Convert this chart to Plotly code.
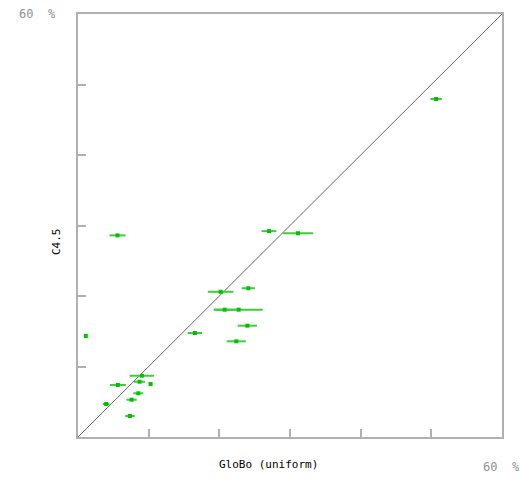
import plotly.graph_objects as go

# GloBo (uniform) error rate (%), C4.5 error rate (%), GloBo std dev (%)
globo_x = [50.68, 5.59, 27.03, 31.13, 20.18, 24.10, 20.75, 22.73, 23.97, 22.40,
           16.54, 1.10, 9.04, 8.71, 10.27, 5.64, 8.53, 7.58, 3.99, 7.34]
c45_y = [47.94, 28.60, 29.20, 28.90, 20.60, 21.10, 18.06, 18.06, 15.79, 13.57,
         14.75, 14.33, 8.69, 7.84, 7.52, 7.38, 6.20, 5.29, 4.68, 2.98]
globo_err = [0.81, 1.13, 1.04, 2.15, 1.81, 0.94, 1.56, 3.40, 1.37, 1.35,
             1.02, 0.0, 1.73, 0.78, 0.0, 1.13, 0.71, 0.73, 0.47, 0.66]

axis_max = 60
tick_vals = [10, 20, 30, 40, 50]
max_label = "60  %"
x_title = "GloBo (uniform)"
y_title = "C4.5"

fig = go.Figure()

fig.add_trace(go.Scatter(
    x=[0, axis_max], y=[0, axis_max], mode="lines",
    line=dict(color="#666666", width=1), hoverinfo="skip", showlegend=False))

fig.add_trace(go.Scatter(
    x=globo_x, y=c45_y, mode="markers",
    marker=dict(symbol="square", size=4, color="#00c000"),
    error_x=dict(type="data", array=globo_err, visible=True,
                 color="#3ccc3c", thickness=2, width=0),
    showlegend=False))

axis_common = dict(
    range=[0, axis_max], showgrid=False, zeroline=False,
    showline=True, mirror=True, linecolor="#b0b0b0", linewidth=2,
    ticks="inside", ticklen=8, tickwidth=2, tickcolor="#b0b0b0",
    tickvals=tick_vals, showticklabels=False, fixedrange=True)

fig.update_xaxes(**axis_common)
fig.update_yaxes(**axis_common)

mono = "DejaVu Sans Mono"
fig.update_layout(
    width=527, height=478,
    margin=dict(l=78, r=25, t=14, b=41),
    plot_bgcolor="white", paper_bgcolor="white",
    annotations=[
        dict(text=max_label, xref="paper", yref="paper", x=0, y=1,
             xanchor="right", yanchor="middle", xshift=-20, yshift=0,
             showarrow=False, font=dict(family=mono, size=12, color="#909090")),
        dict(text=max_label, xref="paper", yref="paper", x=1, y=0,
             xanchor="left", yanchor="middle", xshift=-21, yshift=-30,
             showarrow=False, font=dict(family=mono, size=12, color="#909090")),
        dict(text=x_title, xref="paper", yref="paper", x=(268 - 78) / 424, y=0,
             xanchor="center", yanchor="middle", yshift=-27,
             showarrow=False, font=dict(family=mono, size=11, color="black")),
        dict(text=y_title, xref="paper", yref="paper", x=0, y=(437 - 242) / 423,
             xanchor="center", yanchor="middle", xshift=-22, textangle=-90,
             showarrow=False, font=dict(family=mono, size=11, color="black")),
    ],
)

fig.write_html("out.html")
